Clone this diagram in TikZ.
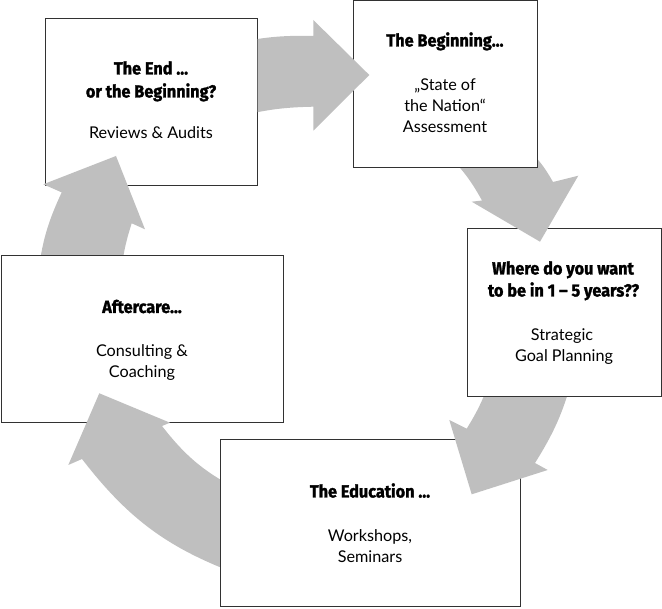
\documentclass[tikz,border=0pt]{standalone}
\usepackage{fontspec}
\setmainfont{Lato}
\newfontfamily\headfont[FakeStretch=0.93, BoldFeatures={FakeBold=1.5}]{Fira Sans}
\definecolor{arrowgray}{RGB}{191,191,191}
\definecolor{boxline}{RGB}{50,50,50}
\tikzset{
  box/.style={draw=boxline, line width=1pt, fill=white, rectangle, inner sep=0pt},
  cyclearrow/.style={fill=arrowgray},
  headtxt/.style={font=\headfont\bfseries\fontsize{17.5}{23}\selectfont, anchor=base, inner sep=0pt},
  bodytxt/.style={font=\fontsize{16.2}{21}\selectfont, anchor=base, inner sep=0pt},
}
\begin{document}
\begin{tikzpicture}[x=1pt,y=1pt]
\useasboundingbox (0,0) rectangle (662,-609);
% box 1
\node[box, minimum width=212, minimum height=167] (b1) at (151,-102.5) {};
\node[headtxt] (b1h1) at (151,-74.5) {The End ...};
\node[headtxt] (b1h2) at (151,-97.5) {or the Beginning?};
\node[bodytxt] (b1t1) at (151,-138.5) {Reviews \& Audits};
% arrow 5 (Aftercare -> End)
\fill[cyclearrow] (38,-275) to[bend left=9] (61.7,-192.4) -- (43.3,-184.3) -- (116,-156) -- (145,-229.3) -- (131.7,-223.3) to[bend right=6] (121,-275) -- cycle;
% box 5
\node[box, minimum width=282, minimum height=167.5] (b5) at (142,-339.25) {};
\node[headtxt] (b5h1) at (142,-313) {Aftercare...};
\node[bodytxt] (b5t1) at (142,-356.5) {Consulting \&};
\node[bodytxt] (b5t2) at (142,-377.5) {Coaching};
% arrow 4 (Education -> Aftercare)
\fill[cyclearrow] (240,-575) to[bend left=16] (82,-459) -- (68.3,-465) -- (99.3,-393.3) -- (170,-422.7) -- (162,-426) to[bend right=12] (237,-489) -- cycle;
% box 4
\node[box, minimum width=299.5, minimum height=167] (b4) at (370.25,-523.5) {};
\node[headtxt] (b4h1) at (370,-497.5) {The Education ...};
\node[bodytxt] (b4t1) at (370,-541.5) {Workshops,};
\node[bodytxt] (b4t2) at (370,-562.5) {Seminars};
% arrow 3 (Where -> Education)
\fill[cyclearrow] (572,-380) to[bend left=8] (535,-463) -- (547.7,-470) -- (471.7,-494.3) -- (449.3,-420) -- (466.7,-428.7) to[bend right=6] (490,-380) -- cycle;
% box 3
\node[box, minimum width=194, minimum height=168] (b3) at (564,-313) {};
\node[headtxt] (b3h1) at (563,-274.5) {Where do you want};
\node[headtxt] (b3h2) at (563.5,-296.5) {to be in 1 – 5 years??};
\node[bodytxt] (b3t1) at (562,-340.5) {Strategic};
\node[bodytxt] (b3t2) at (564,-362) {Goal Planning};
% arrow 2 (Beginning -> Where)
\fill[cyclearrow] (447,-154) to[bend left=8] (482,-200.5) -- (471.7,-201.7) -- (540,-241.7) -- (578.3,-175.7) -- (553,-182) to[bend right=8] (527,-148) -- cycle;
% box 2
\node[box, minimum width=184.5, minimum height=167] (b2) at (445.25,-84.5) {};
\node[headtxt] (b2h1) at (445,-46.5) {The Beginning...};
\node[bodytxt] (b2t1) at (445,-90.5) {„State of};
\node[bodytxt] (b2t2) at (445,-111.5) {the Nation“};
\node[bodytxt] (b2t3) at (445,-132.5) {Assessment};
% arrow 1 (End -> Beginning), tail clipped at box 1
\begin{scope}
  \clip (257.5,10) rectangle (670,-620);
  \fill[cyclearrow] (240,-42) to[bend left=6] (313.3,-36) -- (313.3,-20) -- (369.3,-75) -- (313.3,-130.7) -- (313.3,-106.7) to[bend right=6] (240,-116) -- cycle;
\end{scope}
\end{tikzpicture}
\end{document}
